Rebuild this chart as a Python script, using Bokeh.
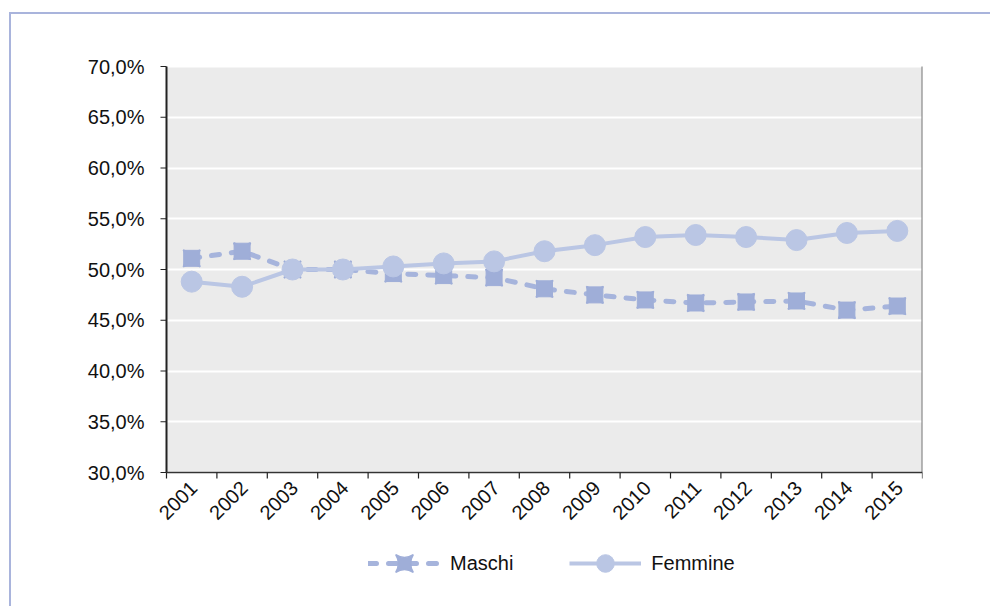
import math
from bokeh.plotting import figure
from bokeh.models import (FixedTicker, Legend, LegendItem, BoxAnnotation,
                          Range1d, ColumnDataSource)
from bokeh.core.properties import value
from bokeh.embed import file_html
from bokeh.resources import INLINE

years = ["2001", "2002", "2003", "2004", "2005", "2006", "2007", "2008",
         "2009", "2010", "2011", "2012", "2013", "2014", "2015"]
maschi = [51.1, 51.8, 50.0, 50.0, 49.6, 49.4, 49.2, 48.1, 47.5, 47.0,
          46.7, 46.8, 46.9, 46.0, 46.4]
femmine = [48.8, 48.3, 50.0, 50.0, 50.3, 50.6, 50.8, 51.8, 52.4, 53.2,
           53.4, 53.2, 52.9, 53.6, 53.8]
y_ticks = [30, 35, 40, 45, 50, 55, 60, 65, 70]
y_tick_labels = ["30,0%", "35,0%", "40,0%", "45,0%", "50,0%", "55,0%",
                 "60,0%", "65,0%", "70,0%"]

C_M = "#9FAED8"
C_M_LINE = "#A6B4DC"
C_F = "#BAC6E4"
C_FRAME = "#A9B4DC"
C_TEXT = "#111111"
C_AXIS = "#222222"
FONT = "Liberation Sans"

# layout (pixels)
W, H = 990, 606
PLOT_LEFT, PLOT_TOP, PLOT_RIGHT, PLOT_BOTTOM = 166, 66, 922, 472
FR_LEFT, FR_TOP, FR_BOTTOM = 60, 46, 600   # frame is larger than the grey area

n = len(years)
ymin, ymax = y_ticks[0], y_ticks[-1]
px_per_unit = (PLOT_BOTTOM - PLOT_TOP) / (ymax - ymin)
y_start = ymin - (FR_BOTTOM - PLOT_BOTTOM) / px_per_unit
y_end = ymax + (PLOT_TOP - FR_TOP) / px_per_unit
px_per_cat = (PLOT_RIGHT - PLOT_LEFT) / n
x_start = -(PLOT_LEFT - FR_LEFT) / px_per_cat

xs = [i + 0.5 for i in range(n)]
src = ColumnDataSource(dict(x=xs, m=maschi, f=femmine, lab=years,
                            base=[ymin] * n))
edges = ColumnDataSource(dict(x=list(range(n + 1)), y=[ymin] * (n + 1)))
ysrc = ColumnDataSource(dict(x=[0] * len(y_ticks), y=y_ticks, lab=y_tick_labels))

p = figure(width=W, height=H, output_backend="svg", toolbar_location=None,
           x_range=Range1d(x_start, n), y_range=Range1d(y_start, y_end),
           x_axis_location=None, y_axis_location=None,
           min_border_left=FR_LEFT, min_border_top=FR_TOP,
           min_border_right=W - PLOT_RIGHT, min_border_bottom=H - FR_BOTTOM)
p.background_fill_color = None
p.border_fill_color = None
p.outline_line_color = None
p.styles = {
    "background": (f"linear-gradient({C_FRAME}, {C_FRAME}) 9px 12px / 2px 100% no-repeat, "
                   f"linear-gradient({C_FRAME}, {C_FRAME}) 9px 12px / 100% 2px no-repeat, "
                   "#ffffff")
}

# grey plotting area
p.add_layout(BoxAnnotation(left=0, right=n, bottom=ymin, top=ymax, level="image",
                           fill_color="#EBEBEB", fill_alpha=1, line_color=None))

# horizontal grid
p.xgrid.grid_line_color = None
p.ygrid.ticker = FixedTicker(ticks=y_ticks)
p.ygrid.grid_line_color = "white"
p.ygrid.grid_line_width = 2
p.ygrid.bounds = (0, n)

# frame lines: value axis (left), right edge shadow, category axis (bottom)
p.segment(x0=[0, n], y0=[ymin, ymin], x1=[0, n], y1=[ymax, ymax],
          line_color=[C_AXIS, "#777777"], line_width=2)
p.segment(x0=[0], y0=[ymin], x1=[n], y1=[ymin], line_color="#333333",
          line_width=1.5)

# value axis ticks and labels
p.ray(x="x", y="y", source=ysrc, length=6, length_units="screen",
      angle=math.pi, line_color=C_AXIS, line_width=1.2)
p.text(x="x", y="y", text="lab", source=ysrc, text_align="right",
       text_baseline="middle", x_offset=-22, y_offset=0,
       text_font=value(FONT), text_font_size="20px", text_color=C_TEXT)

# category axis ticks and rotated labels
p.ray(x="x", y="y", source=edges, length=6, length_units="screen",
      angle=-math.pi / 2, line_color=C_AXIS, line_width=1.2)
p.text(x="x", y="base", text="lab", source=src, angle=math.pi / 4,
       text_align="right", text_baseline="middle", x_offset=2, y_offset=12,
       text_font=value(FONT), text_font_size="20px", text_color=C_TEXT)

# series
rm_line = p.line("x", "m", source=src, line_color=C_M_LINE, line_width=5,
                 line_dash="8 12", line_cap="round")
rm_pin = p.scatter("x", "m", source=src, marker="square_pin", size=17,
                   fill_color=C_M, line_color=C_M, line_width=1.5)
rm_sq = p.scatter("x", "m", source=src, marker="square", size=16,
                  fill_color=C_M, line_color=C_M, line_width=1)
rf_line = p.line("x", "f", source=src, line_color=C_F, line_width=4)
rf_c = p.scatter("x", "f", source=src, marker="circle", size=21,
                 fill_color=C_F, line_color=C_F)

legend = Legend(items=[LegendItem(label="Maschi", renderers=[rm_line, rm_pin]),
                       LegendItem(label="Femmine", renderers=[rf_line, rf_c])],
                orientation="horizontal", location=(368 - FR_LEFT, 15),
                glyph_width=72, glyph_height=44,
                label_text_font=FONT, label_text_font_size="20px",
                label_text_color=C_TEXT, label_standoff=10,
                spacing=56, padding=0, margin=0,
                background_fill_alpha=0, border_line_color=None)
p.add_layout(legend, "center")

open("out.html", "w").write(file_html(p, INLINE))
